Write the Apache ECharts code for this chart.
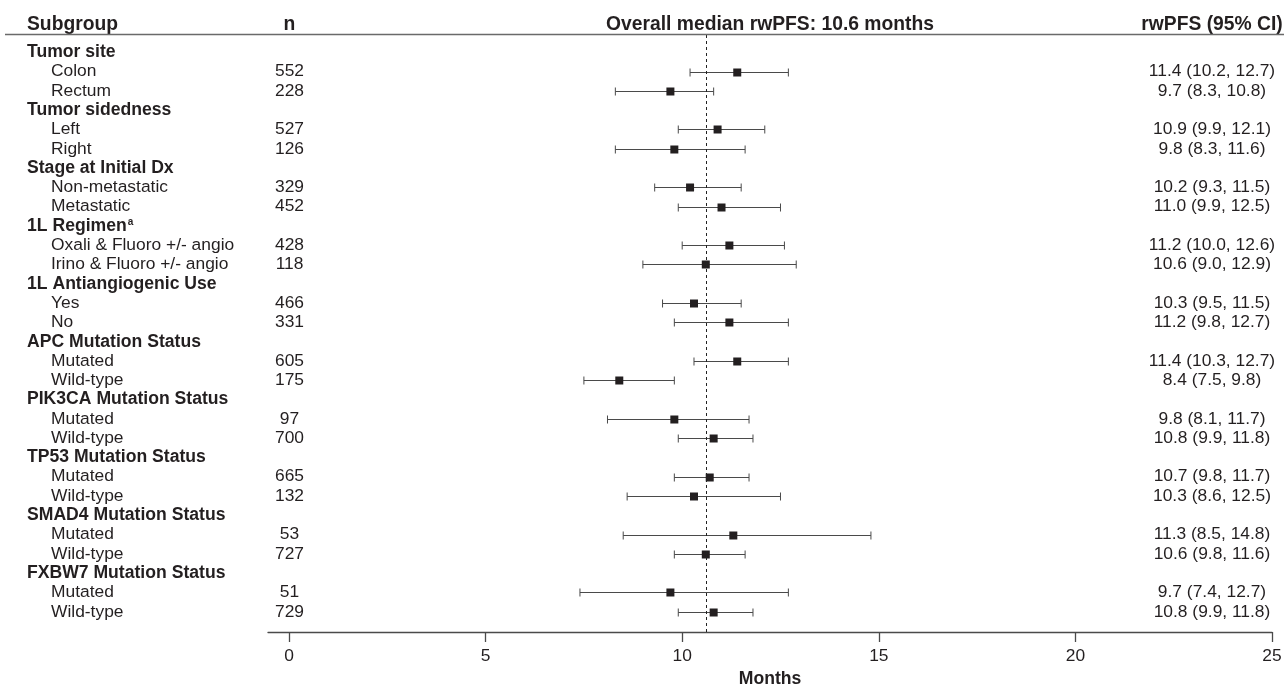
<!DOCTYPE html>
<html>
<head>
<meta charset="utf-8">
<script src="https://cdn.jsdelivr.net/npm/echarts@6/dist/echarts.min.js"></script>
<style>
html,body{margin:0;padding:0;background:#fff;}
#chart{width:1284px;height:688px;}
</style>
</head>
<body>
<div id="chart"></div>
<script>
// ---------------- data ----------------
const groups = ['Tumor site', 'Tumor sidedness', 'Stage at Initial Dx', '1L Regimen', '1L Antiangiogenic Use',
  'APC Mutation Status', 'PIK3CA Mutation Status', 'TP53 Mutation Status', 'SMAD4 Mutation Status', 'FXBW7 Mutation Status'];
const groupSup = ['', '', '', 'a', '', '', '', '', '', ''];
const subgroups = [
  ['Colon', 'Rectum'], ['Left', 'Right'], ['Non-metastatic', 'Metastatic'],
  ['Oxali & Fluoro +/- angio', 'Irino & Fluoro +/- angio'], ['Yes', 'No'],
  ['Mutated', 'Wild-type'], ['Mutated', 'Wild-type'], ['Mutated', 'Wild-type'],
  ['Mutated', 'Wild-type'], ['Mutated', 'Wild-type']
];
const nValues = [[552, 228], [527, 126], [329, 452], [428, 118], [466, 331], [605, 175], [97, 700], [665, 132], [53, 727], [51, 729]];
const medians = [[11.4, 9.7], [10.9, 9.8], [10.2, 11.0], [11.2, 10.6], [10.3, 11.2], [11.4, 8.4], [9.8, 10.8], [10.7, 10.3], [11.3, 10.6], [9.7, 10.8]];
const lowerCI = [[10.2, 8.3], [9.9, 8.3], [9.3, 9.9], [10.0, 9.0], [9.5, 9.8], [10.3, 7.5], [8.1, 9.9], [9.8, 8.6], [8.5, 9.8], [7.4, 9.9]];
const upperCI = [[12.7, 10.8], [12.1, 11.6], [11.5, 12.5], [12.6, 12.9], [11.5, 12.7], [12.7, 9.8], [11.7, 11.8], [11.7, 12.5], [14.8, 11.6], [12.7, 11.8]];
const overallMedian = 10.6;
const xTicks = [0, 5, 10, 15, 20, 25];
const headers = ['Subgroup', 'n', 'Overall median rwPFS: 10.6 months', 'rwPFS (95% CI)'];
const xAxisName = 'Months';

// ---------------- build rows ----------------
const rows = [];
groups.forEach((g, gi) => {
  rows.push({ kind: 'group', label: g, sup: groupSup[gi] });
  subgroups[gi].forEach((s, si) => {
    rows.push({ kind: 'sub', label: s, n: nValues[gi][si], med: medians[gi][si], lo: lowerCI[gi][si], hi: upperCI[gi][si] });
  });
});
const ciData = [];
rows.forEach((r, i) => { if (r.kind === 'sub') ciData.push([r.med, i, r.lo, r.hi]); });
const textData = rows.map((r, i) => [0, i]);

const fmt = v => v.toFixed(1);
const FONT = "'Liberation Sans', Arial, Helvetica, sans-serif";
const TXT = '#231f20';
const LINE = '#4a4a4a';

// layout constants (pixels)
const X_GROUP = 27, X_SUB = 51, X_N = 289.5, X_CI = 1212;
const FS = 17.4, FS_G = 17.6, FS_H = 19.3;

const chart = echarts.init(document.getElementById('chart'), null, { renderer: 'canvas' });

const option = {
  animation: false,
  backgroundColor: '#fff',
  grid: { left: 268, right: 12, top: 35, bottom: 56, containLabel: false, outerBoundsMode: 'none' },
  xAxis: {
    type: 'value', min: -0.534, max: 25, position: 'bottom',
    axisLine: { show: true, onZero: false, lineStyle: { color: LINE, width: 1.3 } },
    axisTick: { show: true, length: 10, customValues: xTicks, lineStyle: { color: LINE, width: 1.3 } },
    axisLabel: { show: true, customValues: xTicks, margin: 16, fontSize: FS, color: TXT, fontFamily: FONT },
    splitLine: { show: false },
    name: xAxisName, nameLocation: 'middle', nameGap: 36,
    nameTextStyle: { fontSize: FS_G, fontWeight: 'bold', color: TXT, fontFamily: FONT }
  },
  yAxis: {
    type: 'value', inverse: true, min: -0.897, max: 30.052, show: false
  },
  graphic: [
    { type: 'line', shape: { x1: 5, y1: 34.5, x2: 1284, y2: 34.5 }, style: { stroke: '#6a6a6a', lineWidth: 1.5 }, z: 10 },
    { type: 'text', x: X_GROUP, y: 25, style: { text: headers[0], fill: TXT, font: `bold ${FS_H}px ${FONT}`, align: 'left', verticalAlign: 'middle' } },
    { type: 'text', x: X_N, y: 25, style: { text: headers[1], fill: TXT, font: `bold ${FS_H}px ${FONT}`, align: 'center', verticalAlign: 'middle' } },
    { type: 'text', x: 770, y: 25, style: { text: headers[2], fill: TXT, font: `bold ${FS_H}px ${FONT}`, align: 'center', verticalAlign: 'middle' } },
    { type: 'text', x: X_CI, y: 25, style: { text: headers[3], fill: TXT, font: `bold ${FS_H}px ${FONT}`, align: 'center', verticalAlign: 'middle' } }
  ],
  series: [
    {
      type: 'custom', name: 'ci', coordinateSystem: 'cartesian2d', clip: false,
      data: ciData,
      renderItem: function (params, api) {
        const pm = api.coord([api.value(0), api.value(1)]);
        const pl = api.coord([api.value(2), api.value(1)]);
        const ph = api.coord([api.value(3), api.value(1)]);
        const y = Math.round(pm[1]) + 0.5;
        const cap = 4, sq = 4;
        const ls = { stroke: LINE, lineWidth: 1 };
        return {
          type: 'group', children: [
            { type: 'line', shape: { x1: pl[0], y1: y, x2: ph[0], y2: y }, style: ls },
            { type: 'line', shape: { x1: pl[0], y1: y - cap, x2: pl[0], y2: y + cap }, style: ls },
            { type: 'line', shape: { x1: ph[0], y1: y - cap, x2: ph[0], y2: y + cap }, style: ls },
            { type: 'rect', shape: { x: pm[0] - sq, y: y - sq, width: 2 * sq, height: 2 * sq }, style: { fill: TXT } }
          ]
        };
      },
      markLine: {
        silent: true, symbol: 'none',
        label: { show: false },
        lineStyle: { color: '#222', width: 1, type: [3, 3] },
        data: [{ xAxis: overallMedian }]
      },
      z: 3
    },
    {
      type: 'custom', name: 'labels', coordinateSystem: 'cartesian2d', clip: false,
      data: textData,
      renderItem: function (params, api) {
        const r = rows[params.dataIndex];
        const y = api.coord([0, api.value(1)])[1];
        if (r.kind === 'group') {
          return {
            type: 'text', x: X_GROUP, y: y,
            style: {
              text: r.sup ? `{b|${r.label}}{s|${r.sup}}` : `{b|${r.label}}`,
              rich: {
                b: { fontSize: FS_G, fontWeight: 'bold', fontFamily: FONT, fill: TXT, color: TXT },
                s: { fontSize: 10, fontWeight: 'bold', fontFamily: FONT, fill: TXT, color: TXT, padding: [0, 0, 8, 1] }
              },
              align: 'left', verticalAlign: 'middle'
            }
          };
        }
        return {
          type: 'group', children: [
            { type: 'text', x: X_SUB, y: y, style: { text: r.label, fill: TXT, font: `${FS}px ${FONT}`, align: 'left', verticalAlign: 'middle' } },
            { type: 'text', x: X_N, y: y, style: { text: String(r.n), fill: TXT, font: `${FS}px ${FONT}`, align: 'center', verticalAlign: 'middle' } },
            { type: 'text', x: X_CI, y: y, style: { text: `${fmt(r.med)} (${fmt(r.lo)}, ${fmt(r.hi)})`, fill: TXT, font: `${FS}px ${FONT}`, align: 'center', verticalAlign: 'middle' } }
          ]
        };
      },
      z: 4
    }
  ]
};
chart.setOption(option);
</script>
</body>
</html>
